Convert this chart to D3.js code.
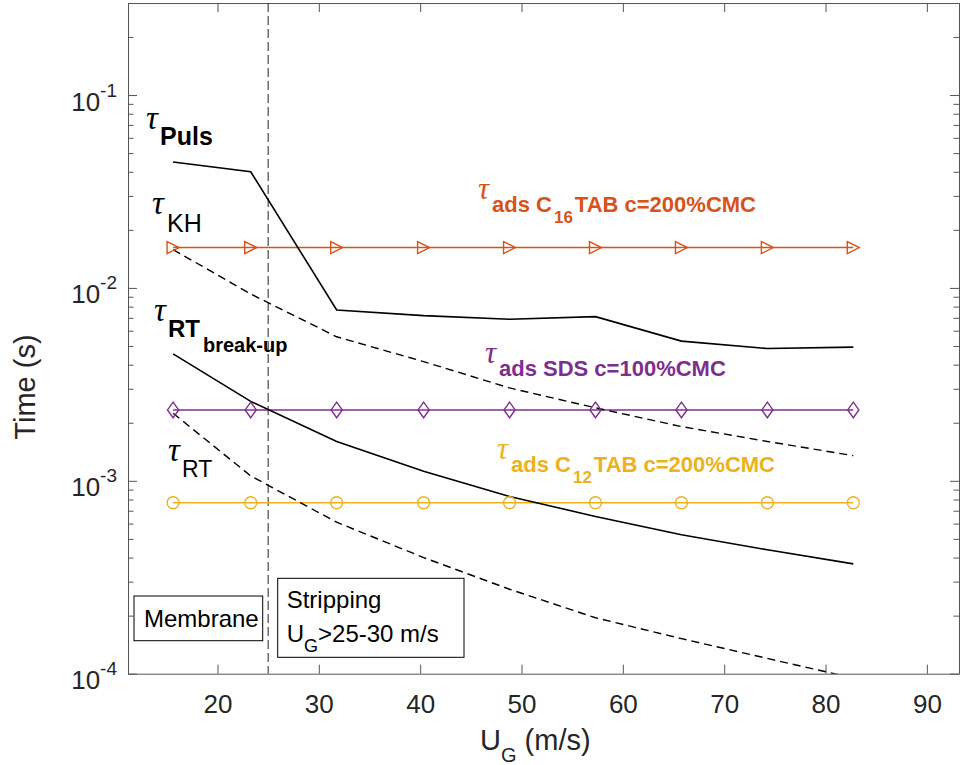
<!DOCTYPE html>
<html>
<head>
<meta charset="utf-8">
<script src="https://cdn.jsdelivr.net/npm/d3@7"></script>
<style>
  html, body { margin: 0; padding: 0; background: #fff; }
  svg { display: block; }
  text { font-family: "Liberation Sans", Arial, Helvetica, sans-serif; }
</style>
</head>
<body>
<svg id="chart" width="960" height="765"></svg>
<script>
// ---- data ----
const U = [15.62, 23.28, 31.76, 40.34, 48.82, 57.30, 65.78, 74.26, 82.74];
const tauPuls = [0.0450, 0.0400, 0.00769, 0.00718, 0.00688, 0.00710, 0.00530, 0.00485, 0.00493];
const tauKH = [0.0158, 0.0093, 0.00558, 0.00415, 0.00303, 0.00239, 0.00191, 0.00160, 0.00135];
const tauRTbreak = [0.00455, 0.00258, 0.00160, 0.00112, 0.00083, 0.000653, 0.000525, 0.000439, 0.000371];
const tauRT = [0.00224, 0.00106, 0.00061, 0.000400, 0.000274, 0.000195, 0.000152, 0.000120, 0.000095];
const tauAdsC16 = [0.0162, 0.0162, 0.0162, 0.0162, 0.0162, 0.0162, 0.0162, 0.0162, 0.0162];
const tauAdsSDS = [0.00233, 0.00233, 0.00233, 0.00233, 0.00233, 0.00233, 0.00233, 0.00233, 0.00233];
const tauAdsC12 = [0.00077, 0.00077, 0.00077, 0.00077, 0.00077, 0.00077, 0.00077, 0.00077, 0.00077];
const stripLimit = 25;
const xTicks = [20, 30, 40, 50, 60, 70, 80, 90];
const yMajor = [1e-4, 1e-3, 1e-2, 1e-1];
const yExp = ["-4", "-3", "-2", "-1"];
const xDomain = [11.17, 93.17];
const yDomain = [1e-4, 0.3];

// ---- layout ----
const svg = d3.select("#chart");
const L = 128, R = 959, T = 3, B = 673.7;
const x = d3.scaleLinear().domain(xDomain).range([L, R]);
const y = d3.scaleLog().domain(yDomain).range([B, T]);
const axisColor = "#555";
const textColor = "#262626";

const yMinor = [];
yMajor.forEach(d => { for (let k = 2; k <= 9; k++) { const v = d * k; if (v <= yDomain[1] + 1e-12) yMinor.push(v); } });

svg.append("defs").append("clipPath").attr("id", "clip")
  .append("rect").attr("x", L).attr("y", T).attr("width", R - L).attr("height", B - T);

// axes
function styleAxis(g) {
  g.selectAll("path.domain").attr("stroke", axisColor).attr("stroke-width", 1);
  g.selectAll(".tick line").attr("stroke", axisColor).attr("stroke-width", 1);
}
const gx = svg.append("g").attr("transform", `translate(0,${B})`)
  .call(d3.axisBottom(x).tickValues(xTicks).tickSize(-9).tickSizeOuter(0).tickPadding(21).tickFormat(d3.format("d")));
gx.call(styleAxis);
gx.selectAll(".tick text").attr("font-size", 26).attr("fill", textColor)
  .style("font-family", '"Liberation Sans", Arial, sans-serif');

const gxt = svg.append("g").attr("transform", `translate(0,${T})`)
  .call(d3.axisTop(x).tickValues(xTicks).tickSize(-9).tickSizeOuter(0).tickFormat(""));
gxt.call(styleAxis);

const gy = svg.append("g").attr("transform", `translate(${L},0)`)
  .call(d3.axisLeft(y).tickValues(yMajor).tickSize(-9).tickSizeOuter(0).tickPadding(11).tickFormat(() => ""));
gy.call(styleAxis);
gy.selectAll(".tick text").each(function(d, i) {
  const t = d3.select(this).attr("dy", 15).attr("fill", textColor).attr("text-anchor", "end")
    .style("font-family", '"Liberation Sans", Arial, sans-serif');
  t.append("tspan").attr("font-size", 26).text("10");
  t.append("tspan").attr("font-size", 19).attr("dy", -14).text(yExp[i]);
});
const gym = svg.append("g").attr("transform", `translate(${L},0)`)
  .call(d3.axisLeft(y).tickValues(yMinor).tickSize(-5.5).tickSizeOuter(0).tickFormat(""));
gym.call(styleAxis);

const gyr = svg.append("g").attr("transform", `translate(${R},0)`)
  .call(d3.axisRight(y).tickValues(yMajor).tickSize(-9).tickSizeOuter(0).tickFormat(""));
gyr.call(styleAxis);
const gyrm = svg.append("g").attr("transform", `translate(${R},0)`)
  .call(d3.axisRight(y).tickValues(yMinor).tickSize(-5.5).tickSizeOuter(0).tickFormat(""));
gyrm.call(styleAxis);

// axis labels
const xl = svg.append("text").attr("x", 480).attr("y", 750).attr("font-size", 29).attr("fill", textColor);
xl.append("tspan").text("U");
xl.append("tspan").attr("font-size", 20).attr("dy", 12).text("G");
xl.append("tspan").attr("dy", -12).text(" (m/s)");

svg.append("text").attr("transform", "translate(35,387) rotate(-90)")
  .attr("text-anchor", "middle").attr("font-size", 29).attr("fill", textColor).text("Time (s)");

// plot area
const plot = svg.append("g").attr("clip-path", "url(#clip)");
const line = d3.line().x((d, i) => x(U[i])).y(d => y(d));

// vertical stripping limit
plot.append("line").attr("x1", x(stripLimit)).attr("x2", x(stripLimit))
  .attr("y1", T).attr("y2", B).attr("stroke", "#222").attr("stroke-width", 1).attr("stroke-dasharray", "9,4");

function series(vals, color, dash, width) {
  plot.append("path").datum(vals).attr("d", line).attr("fill", "none")
    .attr("stroke", color).attr("stroke-width", width).attr("stroke-dasharray", dash || null);
}
const orange = "#D95319", purple = "#7E2F8E", yellow = "#EDB120";

series(tauAdsC16, orange, null, 1.4);
series(tauAdsSDS, purple, null, 1.4);
series(tauAdsC12, yellow, null, 1.4);
series(tauPuls, "#000", null, 1.6);
series(tauKH, "#000", "8,5", 1.4);
series(tauRTbreak, "#000", null, 1.6);
series(tauRT, "#000", "8,5", 1.4);

// markers
const triPath = "M-6,-6L6,0L-6,6Z";
const diaPath = "M0,-7.8L5.6,0L0,7.8L-5.6,0Z";
plot.selectAll(".tri").data(tauAdsC16).join("path").attr("class", "tri")
  .attr("d", triPath).attr("transform", (d, i) => `translate(${x(U[i])},${y(d)})`)
  .attr("fill", "none").attr("stroke", orange).attr("stroke-width", 1.4);
plot.selectAll(".dia").data(tauAdsSDS).join("path").attr("class", "dia")
  .attr("d", diaPath).attr("transform", (d, i) => `translate(${x(U[i])},${y(d)})`)
  .attr("fill", "none").attr("stroke", purple).attr("stroke-width", 1.4);
plot.selectAll(".circ").data(tauAdsC12).join("circle").attr("class", "circ")
  .attr("cx", (d, i) => x(U[i])).attr("cy", d => y(d)).attr("r", 6)
  .attr("fill", "none").attr("stroke", yellow).attr("stroke-width", 1.4);

// annotations
const tauFont = '"Liberation Serif", "DejaVu Serif", serif';
function tau(xp, yp, color, fs) {
  svg.append("text").attr("x", xp - 1).attr("y", yp + 1).attr("font-size", fs || 33)
    .attr("font-style", "italic").style("font-family", tauFont).attr("fill", color).text("τ");
}
// tau_Puls
tau(147, 128, "#000");
svg.append("text").attr("x", 160).attr("y", 145).attr("font-size", 25).attr("font-weight", "bold").attr("fill", "#000").text("Puls");
// tau_KH
tau(153, 213, "#000");
svg.append("text").attr("x", 167).attr("y", 232).attr("font-size", 25).attr("fill", "#000").text("KH");
// tau_RT break-up
tau(155, 320, "#000");
svg.append("text").attr("x", 168).attr("y", 337).attr("font-size", 24).attr("font-weight", "bold").attr("fill", "#000").text("RT");
svg.append("text").attr("x", 203).attr("y", 352).attr("font-size", 20).attr("font-weight", "bold").attr("fill", "#000").text("break-up");
// tau_RT
tau(169, 460, "#000");
svg.append("text").attr("x", 182).attr("y", 477).attr("font-size", 23).attr("fill", "#000").text("RT");

// tau_ads labels
function adsLabel(tx, ty, color, sub, rest) {
  tau(tx, ty, color, 31);
  const t = svg.append("text").attr("x", tx + 13).attr("y", ty + 14).attr("font-size", 22)
    .attr("font-weight", "bold").attr("fill", color);
  if (sub) {
    t.append("tspan").text("ads C");
    t.append("tspan").attr("font-size", 17).attr("dy", 11).attr("dx", 2).text(sub);
    t.append("tspan").attr("dy", -11).attr("dx", 2).text(rest);
  } else {
    t.text(rest);
  }
}
adsLabel(479, 198, orange, "16", "TAB c=200%CMC");
adsLabel(486, 362, purple, null, "ads SDS c=100%CMC");
adsLabel(498, 458, yellow, "12", "TAB c=200%CMC");

// regime boxes
svg.append("rect").attr("x", 134).attr("y", 596).attr("width", 128.7).attr("height", 44.7)
  .attr("fill", "#fff").attr("stroke", "#000").attr("stroke-width", 1);
svg.append("text").attr("x", 144).attr("y", 627).attr("font-size", 24).attr("fill", "#000").text("Membrane");

svg.append("rect").attr("x", 277.7).attr("y", 578.3).attr("width", 186.3).attr("height", 79)
  .attr("fill", "#fff").attr("stroke", "#000").attr("stroke-width", 1);
svg.append("text").attr("x", 286.7).attr("y", 608).attr("font-size", 24).attr("fill", "#000").text("Stripping");
const st = svg.append("text").attr("x", 286.7).attr("y", 641.7).attr("font-size", 24).attr("fill", "#000");
st.append("tspan").text("U");
st.append("tspan").attr("font-size", 18).attr("dy", 10).text("G");
st.append("tspan").attr("dy", -10).text(">25-30 m/s");
</script>
</body>
</html>
